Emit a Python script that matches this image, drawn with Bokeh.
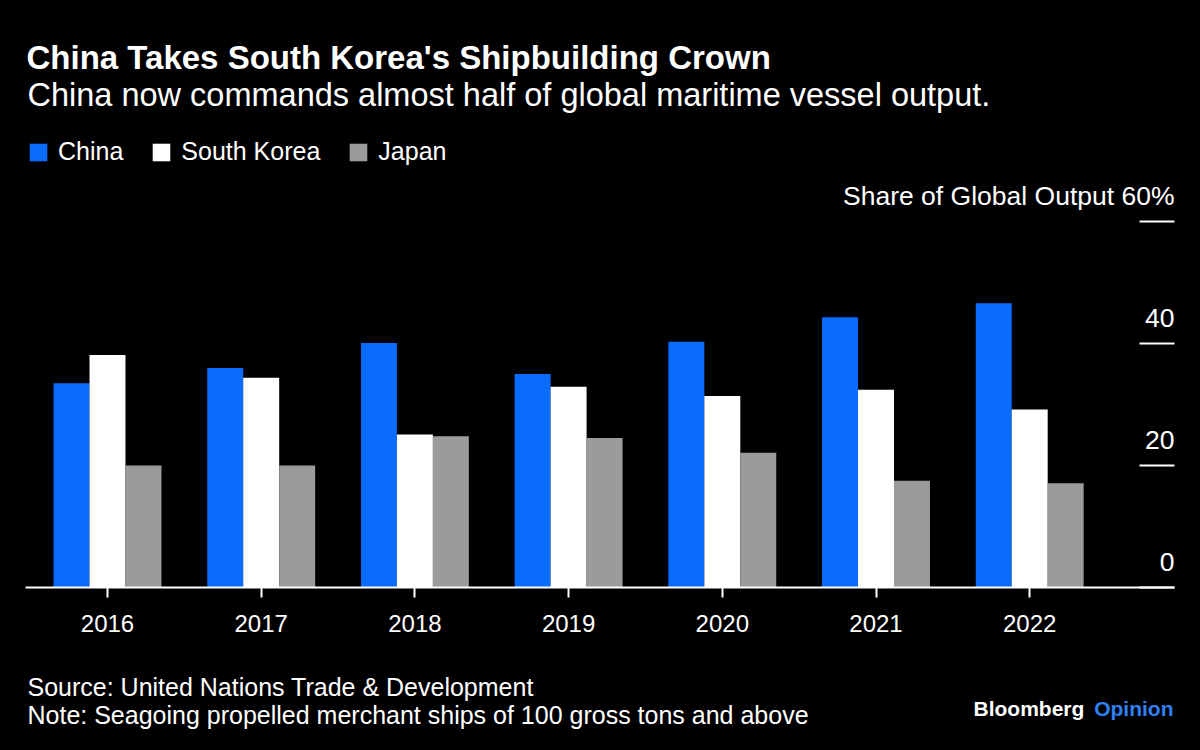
from bokeh.plotting import figure
from bokeh.layouts import column
from bokeh.models import (ColumnDataSource, Range1d, FixedTicker, Label, Legend,
                          LegendItem)
from bokeh.transform import dodge
from bokeh.embed import file_html
from bokeh.resources import INLINE

# ---- data ----
years = ["2016", "2017", "2018", "2019", "2020", "2021", "2022"]
china = [33.5, 36.0, 40.1, 35.0, 40.3, 44.3, 46.6]
south_korea = [38.1, 34.4, 25.1, 32.9, 31.4, 32.4, 29.2]
japan = [20.0, 20.0, 24.8, 24.5, 22.1, 17.5, 17.1]
y_ticks = [0, 20, 40, 60]
y_tick_labels = ["0", "20", "40", "Share of Global Output 60%"]

# ---- style ----
BG = "#000000"
C_CHINA = "#0A6CFF"
C_SK = "#FFFFFF"
C_JP = "#9B9B9B"
FONT = "Liberation Sans"

W = 1200
H1, H2 = 657, 93
FRAME_LEFT, FRAME_RIGHT = 25, 1174
FRAME_BOTTOM = 587
X_START, X_END = -0.5335, 6.942
Y_END = FRAME_BOTTOM / 6.1

idx = list(range(len(years)))
src = ColumnDataSource(dict(x=idx, year=years, china=china, sk=south_korea, jp=japan))

p = figure(width=W, height=H1, output_backend="svg", toolbar_location=None,
           x_range=Range1d(X_START, X_END), y_range=Range1d(0, Y_END),
           y_axis_location="right",
           min_border_left=FRAME_LEFT, min_border_right=W - FRAME_RIGHT,
           min_border_top=0, min_border_bottom=H1 - FRAME_BOTTOM,
           background_fill_color=BG, border_fill_color=BG, outline_line_color=None)
p.grid.visible = False

bw = 0.234
r_cn = p.vbar(x=dodge("x", -bw, range=p.x_range), top="china", width=bw, source=src,
              fill_color=C_CHINA, line_color=None)
r_sk = p.vbar(x=dodge("x", 0, range=p.x_range), top="sk", width=bw, source=src,
              fill_color=C_SK, line_color=None)
r_jp = p.vbar(x=dodge("x", bw, range=p.x_range), top="jp", width=bw, source=src,
              fill_color=C_JP, line_color=None)

# x axis
xa = p.xaxis[0]
xa.ticker = FixedTicker(ticks=idx)
xa.major_label_overrides = {i: y for i, y in zip(idx, years)}
xa.axis_line_color = "#FFFFFF"
xa.axis_line_width = 2
xa.major_tick_line_color = "#FFFFFF"
xa.major_tick_line_width = 2
xa.major_tick_out = 10
xa.major_tick_in = 0
xa.minor_tick_line_color = None
xa.major_label_text_color = "#FFFFFF"
xa.major_label_text_font = FONT
xa.major_label_text_font_size = "24px"
xa.major_label_standoff = 17

# y axis (right, ticks drawn inward; its labels are drawn above the ticks below)
ya = p.yaxis[0]
ya.ticker = FixedTicker(ticks=y_ticks)
ya.axis_line_color = None
ya.major_tick_line_color = "#FFFFFF"
ya.major_tick_line_width = 2
ya.major_tick_in = 35
ya.major_tick_out = 0
ya.minor_tick_line_color = None
ya.major_label_text_color = None
ya.major_label_text_font_size = "1px"
ya.major_label_standoff = 0

p.text(x=[X_END] * len(y_ticks), y=y_ticks, text=y_tick_labels,
       text_align="right", text_baseline="middle", y_offset=-26,
       text_color="#FFFFFF", text_font={"value": FONT}, text_font_size="26.5px")

# legend
legend = Legend(items=[LegendItem(label="China", renderers=[r_cn]),
                       LegendItem(label="South Korea", renderers=[r_sk]),
                       LegendItem(label="Japan", renderers=[r_jp])],
                orientation="horizontal", location=(2, 421),
                background_fill_alpha=0, border_line_color=None,
                label_text_color="#FFFFFF", label_text_font=FONT,
                label_text_font_size="25px", glyph_width=22, glyph_height=22,
                label_height=18, label_standoff=9, spacing=27, padding=0, margin=0)
p.add_layout(legend, "center")

def sy(canvas_y):
    return FRAME_BOTTOM - canvas_y

def sx(canvas_x):
    return canvas_x - FRAME_LEFT

top_texts = [
    ("China Takes South Korea's Shipbuilding Crown", 26, 57, "33px", "bold"),
    ("China now commands almost half of global maritime vessel output.", 27, 94, "32.5px", "normal"),
]
for t, cx, cy, fs, fw in top_texts:
    p.add_layout(Label(x=sx(cx), y=sy(cy), x_units="screen", y_units="screen", text=t,
                       text_color="#FFFFFF", text_font=FONT, text_font_size=fs,
                       text_font_style=fw, text_align="left", text_baseline="middle"))

# footer figure (its frame is aligned with the chart's frame by the column layout)
f = figure(width=W, height=H2, output_backend="svg", toolbar_location=None,
           x_range=Range1d(FRAME_LEFT, FRAME_RIGHT), y_range=Range1d(H2, 0),
           x_axis_location=None, y_axis_location=None,
           min_border_left=FRAME_LEFT, min_border_right=W - FRAME_RIGHT,
           min_border_top=0, min_border_bottom=0,
           background_fill_color=BG, border_fill_color=BG, outline_line_color=None)
f.grid.visible = False
foot_texts = [
    ("Source: United Nations Trade & Development", 27, 29, "25px", "normal", "#FFFFFF", "left"),
    ("Note: Seagoing propelled merchant ships of 100 gross tons and above", 27, 57, "25px", "normal", "#FFFFFF", "left"),
    ("Bloomberg", 973, 51, "21px", "bold", "#FFFFFF", "left"),
    ("Opinion", 1173, 51, "21px", "bold", "#2F80F5", "right"),
]
for t, cx, cy, fs, fw, col, al in foot_texts:
    f.add_layout(Label(x=cx, y=cy, text=t, text_color=col, text_font=FONT,
                       text_font_size=fs, text_font_style=fw, text_align=al,
                       text_baseline="middle"))

layout = column(p, f, spacing=0)
html = file_html(layout, INLINE)
html = html.replace("</head>", "<style>html,body{background:#000000;margin:0;}</style></head>", 1)
open("out.html", "w").write(html)
